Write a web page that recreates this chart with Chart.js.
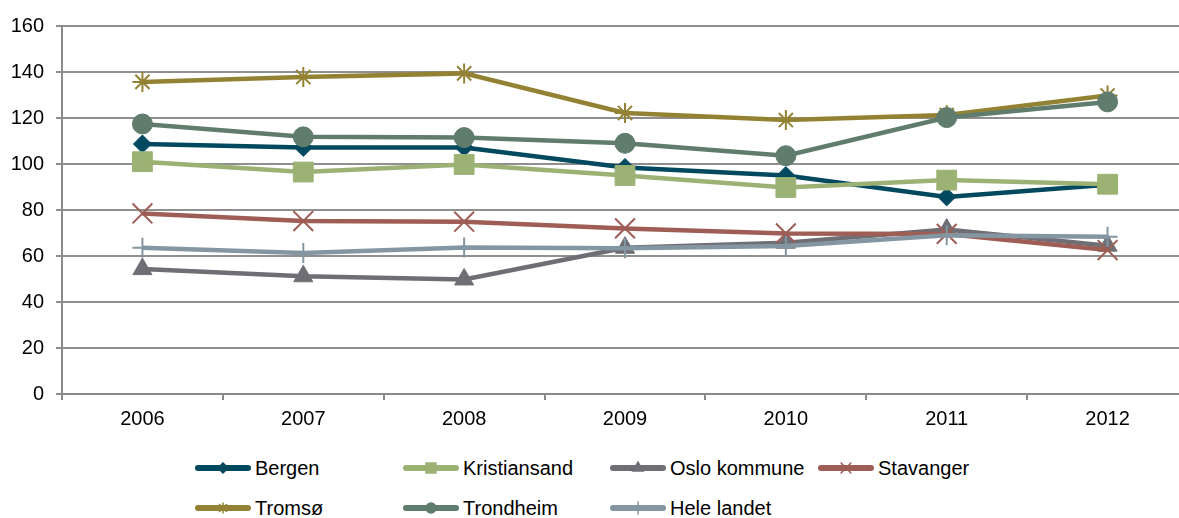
<!DOCTYPE html>
<html>
<head>
<meta charset="utf-8">
<script src="https://cdn.jsdelivr.net/npm/chart.js"></script>
<style>
  html, body { margin: 0; padding: 0; background: #fff; overflow: hidden; }
  body { width: 1179px; height: 518px; position: relative; font-family: "Liberation Sans", Arial, sans-serif; }
  #wrap { position: absolute; left: 0; top: 0; width: 1204px; height: 440px; }
  .leg { position: absolute; height: 24px; display: flex; align-items: center; font-size: 20px; color: #000; white-space: nowrap; }
  .leg canvas { margin-right: 4px; }
</style>
</head>
<body>
<div id="wrap"><canvas id="myChart" width="1204" height="440"></canvas></div>
<div id="legend"></div>
<script>
const years = ['2006', '2007', '2008', '2009', '2010', '2011', '2012'];
const yTicks = [0, 20, 40, 60, 80, 100, 120, 140, 160];

const bergen = [108.7, 107.2, 107.2, 98.5, 95.0, 85.7, 91.0];
const kristiansand = [101.0, 96.5, 99.8, 95.0, 89.8, 93.0, 91.2];
const oslo = [54.3, 51.2, 49.8, 63.6, 65.8, 71.5, 64.5];
const stavanger = [78.5, 75.2, 74.9, 72.0, 69.8, 69.6, 62.6];
const tromso = [135.7, 137.8, 139.4, 122.2, 119.1, 121.3, 129.8];
const trondheim = [117.4, 111.8, 111.5, 109.0, 103.6, 120.2, 127.0];
const heleLandet = [63.6, 61.3, 63.7, 63.4, 64.3, 69.0, 68.4];

const seriesNames = ['Bergen', 'Kristiansand', 'Oslo kommune', 'Stavanger', 'Tromsø', 'Trondheim', 'Hele landet'];
const seriesData = [bergen, kristiansand, oslo, stavanger, tromso, trondheim, heleLandet];
const seriesColors = ['#02495f', '#9bb274', '#6e6e74', '#9e5d55', '#948234', '#5f7c6d', '#8396a2'];
const seriesMarkers = ['rectRot', 'rect', 'triangle', 'crossRot', 'star', 'circle', 'cross'];
const markerSizes = [9, 14, 11, 14, 10, 10, 10];
const legendMarkerSizes = [5, 7, 6, 7, 5, 5, 6];

const datasets = seriesNames.map(function(name, i) {
    const thin = ['crossRot', 'star', 'cross'].includes(seriesMarkers[i]);
    return {
        label: name,
        data: seriesData[i],
        borderColor: seriesColors[i],
        backgroundColor: seriesColors[i],
        borderWidth: 4.5,
        pointStyle: seriesMarkers[i],
        pointRadius: markerSizes[i],
        pointBorderWidth: thin ? 2 : 1,
        pointBorderColor: seriesColors[i],
        pointBackgroundColor: seriesColors[i],
        tension: 0,
        order: seriesNames.length - i // later series drawn on top, like Excel
    };
});

const ctx = document.getElementById('myChart');
const myChart = new Chart(ctx, {
    type: 'line',
    data: { labels: years, datasets: datasets },
    options: {
        responsive: false,
        animation: false,
        devicePixelRatio: 1,
        layout: { padding: { top: 26, right: 0, bottom: 0, left: 0 } },
        plugins: { legend: { display: false }, tooltip: { enabled: false } },
        scales: {
            x: {
                offset: true,
                grid: { offset: true, drawOnChartArea: false, drawTicks: true, tickLength: 6, color: '#8a8a8a', lineWidth: 2 },
                border: { color: '#8a8a8a', width: 2 },
                ticks: { color: '#000', font: { family: 'Liberation Sans', size: 20 }, padding: 7, maxRotation: 0 },
                afterFit: function(scale) { scale.height = 46; }
            },
            y: {
                min: 0,
                max: 160,
                afterBuildTicks: function(scale) { scale.ticks = yTicks.map(v => ({ value: v })); },
                grid: { color: '#8f8f8f', lineWidth: 2, drawTicks: true, tickLength: 6 },
                border: { color: '#8a8a8a', width: 2 },
                ticks: { color: '#000', font: { family: 'Liberation Sans', size: 20 }, padding: 12 },
                afterFit: function(scale) { scale.width = 62; }
            }
        }
    }
});

// legend in Excel-style fixed columns
const legendCols = [195, 403, 610, 818];
const legendRows = [468, 508];
const legendEl = document.getElementById('legend');
seriesNames.forEach(function(name, i) {
    const item = document.createElement('div');
    item.className = 'leg';
    item.style.left = legendCols[i % 4] + 'px';
    item.style.top = (legendRows[Math.floor(i / 4)] - 12) + 'px';
    const icon = document.createElement('canvas');
    icon.width = 56;
    icon.height = 16;
    const c = icon.getContext('2d');
    c.strokeStyle = seriesColors[i];
    c.lineWidth = 6;
    c.lineCap = 'round';
    c.beginPath();
    c.moveTo(3, 8);
    c.lineTo(53, 8);
    c.stroke();
    if (Chart.helpers && Chart.helpers.drawPoint) {
        c.fillStyle = seriesColors[i];
        c.strokeStyle = seriesColors[i];
        c.lineWidth = 1.5;
        Chart.helpers.drawPoint(c, { pointStyle: seriesMarkers[i], radius: legendMarkerSizes[i], borderWidth: 1.5, rotation: 0 }, 28, 8);
    }
    item.appendChild(icon);
    const label = document.createElement('span');
    label.textContent = name;
    item.appendChild(label);
    legendEl.appendChild(item);
});
</script>
</body>
</html>
